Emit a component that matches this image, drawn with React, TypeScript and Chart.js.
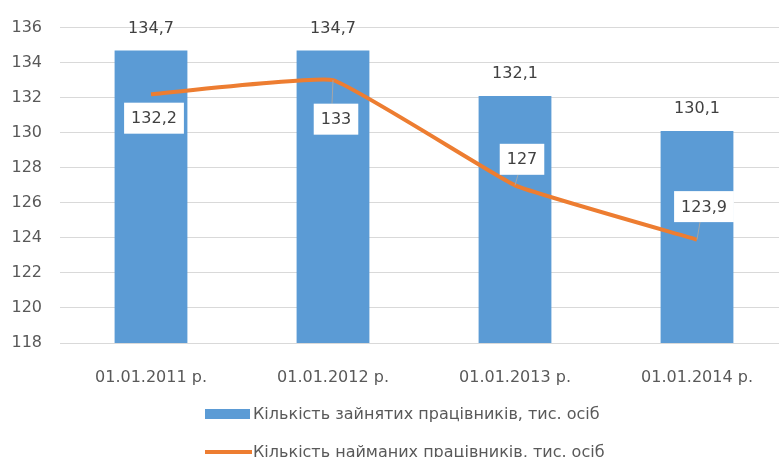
import React, { useEffect, useRef } from 'react';
import { Chart, registerables } from 'chart.js';

Chart.register(...registerables);

const categories = ['01.01.2011 р.', '01.01.2012 р.', '01.01.2013 р.', '01.01.2014 р.'];
const employedValues = [134.7, 134.7, 132.1, 130.1];
const hiredValues = [132.2, 133, 127, 123.9];
const seriesNames = [
  'Кількість зайнятих працівників, тис. осіб',
  'Кількість найманих працівників, тис. осіб',
];
const yMin = 118;
const yMax = 136;
const yStep = 2;

const FONT = '"DejaVu Sans", "Liberation Sans", Arial, sans-serif';
const BAR_COLOR = '#5B9BD5';
const LINE_COLOR = '#ED7D31';
const TEXT_COLOR = '#595959';
const LABEL_COLOR = '#404040';

// label placement (style), relative to each line point: [dx, dy]
const lineLabelOffsets: [number, number][] = [
  [3, 24],
  [3, 39],
  [7, -26],
  [7, -33],
];

const fmt = (v: number) => String(v).replace('.', ',');

const valueLabelsPlugin = {
  id: 'valueLabels',
  afterDatasetsDraw(chart: any) {
    const ctx = chart.ctx as CanvasRenderingContext2D;
    ctx.save();
    ctx.font = `16px ${FONT}`;
    ctx.textAlign = 'center';
    ctx.textBaseline = 'middle';
    const barMeta = chart.getDatasetMeta(0);
    barMeta.data.forEach((el: any, i: number) => {
      ctx.fillStyle = LABEL_COLOR;
      ctx.fillText(fmt(employedValues[i]), el.x, el.y - 22);
    });
    const lineMeta = chart.getDatasetMeta(1);
    lineMeta.data.forEach((el: any, i: number) => {
      const [dx, dy] = lineLabelOffsets[i];
      const cx = el.x + dx;
      const cy = el.y + dy;
      const text = fmt(hiredValues[i]);
      const w = ctx.measureText(text).width + 14;
      const h = 31;
      const gap = Math.abs(dy) - h / 2;
      if (gap > 10) {
        ctx.strokeStyle = '#A6A6A6';
        ctx.lineWidth = 1;
        ctx.beginPath();
        ctx.moveTo(el.x, el.y);
        ctx.lineTo(cx - 4, dy > 0 ? cy - h / 2 : cy + h / 2);
        ctx.stroke();
      }
      ctx.fillStyle = '#ffffff';
      ctx.fillRect(cx - w / 2, cy - h / 2, w, h);
      ctx.fillStyle = LABEL_COLOR;
      ctx.fillText(text, cx, cy + 1);
    });
    ctx.restore();
  },
};

const legendPlugin = {
  id: 'customLegend',
  afterDraw(chart: any) {
    const ctx = chart.ctx as CanvasRenderingContext2D;
    ctx.save();
    ctx.font = `16px ${FONT}`;
    ctx.textAlign = 'left';
    ctx.textBaseline = 'middle';
    const left = 205;
    const rows = [414, 452];
    ctx.fillStyle = BAR_COLOR;
    ctx.fillRect(left, rows[0] - 5, 45, 10);
    ctx.fillStyle = TEXT_COLOR;
    ctx.fillText(seriesNames[0], left + 48, rows[0] + 1);
    ctx.strokeStyle = LINE_COLOR;
    ctx.lineWidth = 4;
    ctx.beginPath();
    ctx.moveTo(left, rows[1]);
    ctx.lineTo(left + 47, rows[1]);
    ctx.stroke();
    ctx.fillStyle = TEXT_COLOR;
    ctx.fillText(seriesNames[1], left + 48, rows[1] + 1);
    ctx.restore();
  },
};

export default function App() {
  const canvasRef = useRef<HTMLCanvasElement | null>(null);

  useEffect(() => {
    if (!canvasRef.current) return;
    const chart = new Chart(canvasRef.current, {
      type: 'bar',
      data: {
        labels: categories,
        datasets: [
          {
            type: 'bar',
            label: seriesNames[0],
            data: employedValues,
            backgroundColor: BAR_COLOR,
            borderWidth: 0,
            barPercentage: 0.4,
            categoryPercentage: 1,
            order: 1,
          },
          {
            type: 'line',
            label: seriesNames[1],
            data: hiredValues,
            borderColor: LINE_COLOR,
            backgroundColor: LINE_COLOR,
            borderWidth: 4,
            pointRadius: 0,
            tension: 0.1,
            order: 0,
          } as any,
        ],
      },
      options: {
        responsive: false,
        animation: false,
        layout: { padding: { left: 0, top: 25, right: 12, bottom: 70 } },
        plugins: {
          legend: { display: false },
          tooltip: { enabled: false },
        },
        scales: {
          x: {
            grid: { display: false },
            border: { display: false },
            ticks: {
              color: TEXT_COLOR,
              font: { family: FONT, size: 16 },
              padding: 17,
              maxRotation: 0,
            },
            afterFit: (scale: any) => {
              scale.height = 44;
            },
          },
          y: {
            min: yMin,
            max: yMax,
            grid: { color: '#D9D9D9', lineWidth: 1, drawTicks: false },
            border: { display: false },
            ticks: {
              stepSize: yStep,
              color: TEXT_COLOR,
              font: { family: FONT, size: 16 },
              padding: 18,
            },
            afterFit: (scale: any) => {
              scale.width = 60;
            },
          },
        },
      },
      plugins: [valueLabelsPlugin, legendPlugin],
    });
    return () => chart.destroy();
  }, []);

  return (
    <div
      style={{
        position: 'fixed',
        left: 0,
        top: 0,
        width: 779,
        height: 457,
        overflow: 'hidden',
        background: '#ffffff',
      }}
    >
      <canvas
        ref={canvasRef}
        width={800}
        height={457}
        style={{ display: 'block', width: 800, height: 457 }}
      />
    </div>
  );
}
